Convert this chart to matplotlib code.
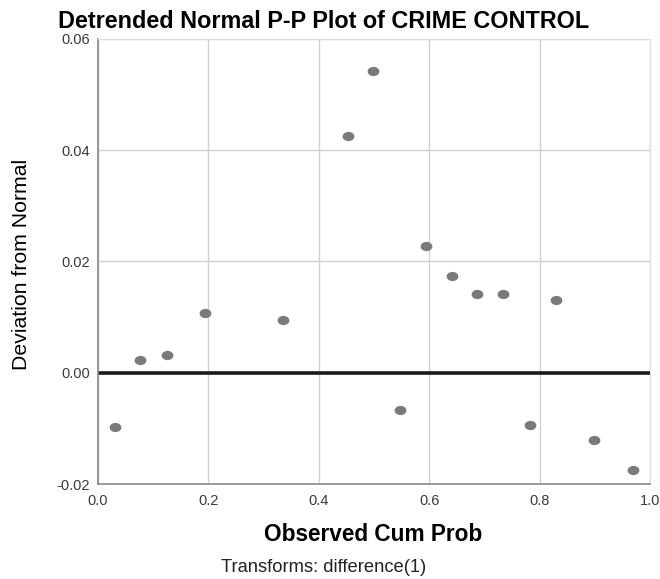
import matplotlib
matplotlib.use("Agg")
import matplotlib.pyplot as plt
from matplotlib.path import Path
from matplotlib.transforms import Affine2D

plt.rcParams["font.family"] = ["Liberation Sans", "DejaVu Sans"]

# observed cumulative probability vs deviation from normal
obs_cum_prob = [0.031, 0.076, 0.125, 0.194, 0.335, 0.453, 0.498, 0.547,
                0.594, 0.641, 0.687, 0.734, 0.783, 0.830, 0.899, 0.969]
deviation = [-0.0097, 0.0022, 0.0032, 0.0108, 0.0095, 0.0425, 0.0542, -0.0067,
             0.0227, 0.0173, 0.0142, 0.0142, -0.0094, 0.0130, -0.0121, -0.0175]

x_ticks = [0.0, 0.2, 0.4, 0.6, 0.8, 1.0]
y_ticks = [-0.02, 0.00, 0.02, 0.04, 0.06]

# SPSS draws slightly flattened dots
oval = Path.unit_circle().transformed(Affine2D().scale(1.0, 0.78))

fig = plt.figure(figsize=(6.6, 5.79), dpi=100)
ax = fig.add_axes([0.1485, 0.164, 0.8365, 0.769])

ax.grid(True, color="#d0d0d0", linewidth=1.0)
ax.set_axisbelow(True)
ax.axhline(0, color="#1a1a1a", linewidth=2.6, zorder=2)
ax.plot(obs_cum_prob, deviation, linestyle="none", marker=oval,
        color="#7a7a7a", markersize=8.5, markeredgewidth=0, zorder=3)

ax.set_xlim(0, 1)
ax.set_ylim(-0.02, 0.06)
ax.set_xticks(x_ticks)
ax.set_xticklabels([f"{v:.1f}" for v in x_ticks])
ax.set_yticks(y_ticks)
ax.set_yticklabels([f"{v:.2f}" for v in y_ticks])
ax.tick_params(length=0, labelsize=10.5, labelcolor="#3a3a3a")
ax.tick_params(axis="x", pad=7)
ax.tick_params(axis="y", pad=6)

for side in ("left", "bottom"):
    ax.spines[side].set_color("#888888")
    ax.spines[side].set_linewidth(1.2)
for side in ("top", "right"):
    ax.spines[side].set_color("#dddddd")

fig.text(0.088, 0.9516, "Detrended Normal P-P Plot of CRIME CONTROL",
         fontsize=16.8, fontweight="bold", ha="left", va="baseline")
fig.text(0.033, 0.544, "Deviation from Normal", fontsize=15.3,
         rotation=90, ha="center", va="center")
fig.text(0.566, 0.076, "Observed Cum Prob", fontsize=16.3, fontweight="bold",
         ha="center", va="center")
fig.text(0.49, 0.019, "Transforms: difference(1)", fontsize=13.2,
         ha="center", va="center", color="#222222")

fig.savefig("out.png", dpi=100)
